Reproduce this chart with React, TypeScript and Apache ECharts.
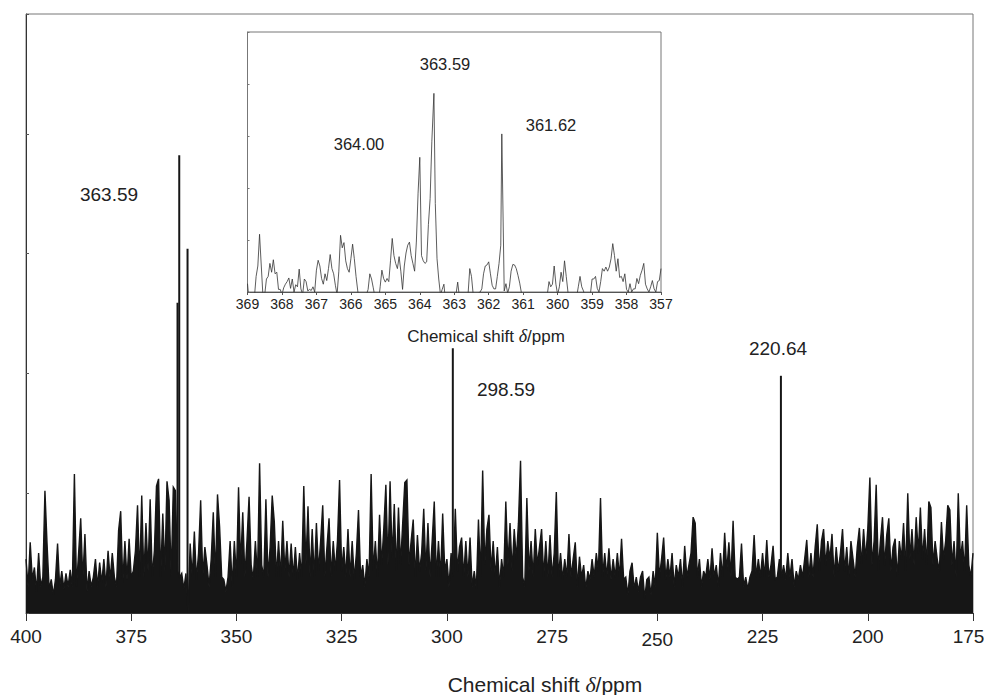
import React, { useEffect, useRef } from "react";
import * as echarts from "echarts";

// ---------- Full spectrum (400 → 175 ppm), intensities sampled every 0.5 ppm ----------
const MAIN_START = 400;
const MAIN_STEP = 0.5;

const seg400 = [
  0.45, 0.22, 0.59, 0.28, 0.38, 0.18, 0.5, 0.22, 0.3, 1.02,
  0.58, 0.2, 0.28, 0.15, 0.28, 0.58, 0.22, 0.35, 0.2, 0.33,
  0.22, 0.36, 0.22, 1.16, 0.22, 0.5, 0.79, 0.28, 0.66, 0.18,
  0.35, 0.22, 0.3, 0.45, 0.22, 0.42, 0.25, 0.45, 0.22, 0.52,
  0.28, 0.5, 0.3, 0.22, 0.69, 0.85, 0.25, 0.6, 0.28, 0.62,
];
const seg375 = [
  0.3, 0.35, 0.52, 0.9, 0.3, 0.98, 0.3, 0.75, 0.35, 0.95,
  0.3, 0.52, 1.06, 1.12, 0.3, 0.83, 0.35, 1.1, 0.94, 0.3,
  1.05, 1.02, 0.35, 0.3, 0.33, 0.2, 0.33, 0.0, 0.58, 0.3,
  0.68, 0.28, 0.5, 0.94, 0.3, 0.55, 0.4, 0.22, 0.45, 0.84,
  0.3, 0.99, 0.72, 0.3, 0.28, 0.18, 0.3, 0.6, 0.22, 0.6,
];
const seg350 = [
  0.3, 1.05, 0.4, 0.84, 0.3, 0.6, 0.97, 0.4, 0.28, 0.6,
  0.3, 1.25, 0.4, 0.3, 0.95, 0.3, 0.55, 0.98, 0.76, 0.3,
  0.6, 0.3, 0.77, 0.35, 0.6, 0.3, 0.58, 0.3, 0.55, 0.28,
  0.5, 0.3, 1.06, 0.4, 0.89, 0.3, 0.7, 0.3, 0.75, 0.35,
  0.6, 0.9, 0.3, 0.55, 0.79, 0.3, 0.6, 0.35, 0.6, 1.11,
];
const seg325 = [
  0.35, 0.55, 0.3, 0.7, 0.3, 0.6, 0.28, 0.5, 0.86, 0.3,
  0.4, 0.22, 0.45, 0.3, 1.16, 0.35, 0.6, 0.3, 0.82, 0.4,
  0.7, 1.07, 0.4, 1.1, 0.45, 0.91, 0.35, 0.88, 0.4, 0.75,
  1.09, 1.11, 0.4, 0.6, 0.78, 0.3, 0.65, 0.35, 0.5, 0.87,
  0.35, 0.75, 0.3, 0.6, 0.93, 0.3, 0.6, 0.3, 0.83, 0.35,
];
const seg300 = [
  0.45, 0.22, 0.5, 0.3, 0.87, 0.35, 0.55, 0.63, 0.3, 0.6,
  0.3, 0.63, 0.22, 0.35, 0.2, 0.78, 0.3, 1.19, 0.4, 0.7,
  0.82, 0.35, 0.6, 0.3, 0.55, 0.22, 0.45, 0.3, 0.93, 0.4,
  0.75, 0.35, 0.7, 0.45, 0.75, 1.27, 0.3, 0.22, 0.96, 0.35,
  0.6, 0.3, 0.7, 0.4, 0.55, 0.7, 0.3, 0.6, 0.3, 0.65,
];
const seg275 = [
  0.3, 0.5, 1.01, 0.3, 0.5, 0.28, 0.45, 0.3, 0.66, 0.3,
  0.45, 0.59, 0.22, 0.47, 0.3, 0.4, 0.2, 0.35, 0.28, 0.45,
  0.3, 0.5, 0.35, 0.96, 0.3, 0.5, 0.3, 0.54, 0.28, 0.45,
  0.3, 0.5, 0.3, 0.62, 0.28, 0.3, 0.15, 0.35, 0.42, 0.2,
  0.3, 0.18, 0.3, 0.35, 0.12, 0.28, 0.3, 0.15, 0.35, 0.22,
];
const seg250 = [
  0.67, 0.3, 0.45, 0.63, 0.28, 0.45, 0.3, 0.5, 0.22, 0.4,
  0.3, 0.45, 0.22, 0.56, 0.3, 0.4, 0.5, 0.8, 0.75, 0.3,
  0.45, 0.22, 0.35, 0.3, 0.45, 0.28, 0.54, 0.3, 0.4, 0.22,
  0.5, 0.3, 0.67, 0.35, 0.59, 0.3, 0.77, 0.3, 0.28, 0.3,
  0.58, 0.22, 0.3, 0.2, 0.3, 0.35, 0.65, 0.3, 0.45, 0.3,
];
const seg225 = [
  0.5, 0.3, 0.61, 0.3, 0.4, 0.56, 0.28, 0.3, 0.45, 0.3,
  0.4, 0.28, 0.5, 0.3, 0.45, 0.22, 0.35, 0.28, 0.4, 0.3,
  0.45, 0.61, 0.3, 0.5, 0.3, 0.55, 0.74, 0.35, 0.6, 0.7,
  0.4, 0.6, 0.45, 0.66, 0.3, 0.55, 0.35, 0.5, 0.7, 0.35,
  0.55, 0.3, 0.6, 0.45, 0.3, 0.55, 0.71, 0.4, 0.7, 0.45,
];
const seg200 = [
  0.7, 1.13, 0.4, 0.6, 1.07, 0.35, 0.6, 0.8, 0.4, 0.65,
  0.79, 0.35, 0.55, 0.62, 0.3, 0.6, 0.45, 0.75, 0.35, 1.0,
  0.45, 0.7, 0.4, 0.8, 0.5, 0.88, 0.45, 0.7, 0.4, 0.93,
  0.88, 0.4, 0.6, 0.45, 0.35, 0.76, 0.45, 0.6, 0.9, 0.86,
  0.4, 0.6, 0.3, 1.0, 0.45, 0.6, 0.35, 0.9, 0.4, 0.3, 0.5,
];
const mainNoise = [
  ...seg400, ...seg375, ...seg350, ...seg325, ...seg300,
  ...seg275, ...seg250, ...seg225, ...seg200,
];
const mainTicks = [400, 375, 350, 325, 300, 275, 250, 225, 200, 175];

// Resolved resonances of the full spectrum
const peakShifts = [364.0, 363.59, 361.62, 298.59, 220.64];
const peakHeights = [2.59, 3.82, 3.04, 2.21, 1.98];
// Which resonances carry a label in the full spectrum, and where the label sits
const mainLabelled = [1, 3, 4];
const mainLabelPos = [
  [109, 194],
  [506, 389],
  [778, 348],
];

// ---------- Expanded region (369 → 357 ppm), sampled every 0.05 ppm ----------
const INSET_START = 369;
const INSET_STEP = 0.05;
// null marks a slot taken by one of the resolved resonances below
const insetA = [
  0.16, -0.2, -0.2, -0.2, -0.1, 0.3, 0.5, 1.11, 0.5, -0.1,
  -0.05, 0.25, 0.3, 0.55, 0.38, 0.62, 0.35, 0.38, 0.05, 0.05,
  -0.05, 0.08, 0.15, 0.2, 0.27, 0.07, 0.25, 0.0, 0.14, 0.1,
  0.44, 0.06, -0.05, 0.25, 0.2, 0.02, 0.05, 0.03, 0.1, 0.0,
  0.42, 0.61, 0.5, 0.26, 0.15, 0.35, 0.22, 0.45, 0.72, 0.45,
  0.35, 0.13, -0.05, 0.4, 1.09, 0.85, 0.95, 0.6, 0.45, 0.38,
];
const insetB = [
  0.64, 0.92, 0.64, 0.3, 0.02, -0.2, -0.2, -0.2, -0.2, -0.05,
  0.05, 0.35, 0.25, 0.08, -0.1, -0.2, -0.2, 0.1, 0.42, 0.26,
  0.19, 0.26, 0.2, 0.6, 1.03, 0.7, 0.55, 0.45, 0.68, 0.4,
  0.05, 0.5, 0.75, 0.9, 0.96, 0.7, 0.55, 0.4, 0.96, 1.9,
  null, 0.7, 0.6, 0.55, 0.58, 1.3, 1.8, 2.9, null, 1.7,
  0.64, 0.25, -0.05, 0.05, 0.15, -0.2, -0.2, -0.2, -0.2, -0.1,
];
const insetC = [
  -0.1, -0.05, 0.19, -0.1, -0.2, -0.2, -0.2, -0.15, -0.05, 0.45,
  0.3, -0.05, -0.2, -0.2, -0.02, 0.0, 0.06, 0.35, 0.5, 0.52,
  0.58, 0.35, 0.13, 0.06, 0.06, 0.3, 0.55, 0.9, null, 0.02,
  0.16, -0.02, 0.1, 0.4, 0.53, 0.52, 0.45, 0.32, 0.17, -0.02,
  -0.15, -0.25, -0.25, -0.25, -0.25, -0.25, -0.25, -0.25, -0.25, -0.25,
  -0.25, -0.25, -0.25, -0.25, -0.05, 0.2, 0.1, 0.15, 0.5, 0.15,
];
const insetD = [
  -0.05, 0.1, 0.38, 0.2, 0.6, 0.3, 0.0, -0.2, -0.2, -0.2,
  -0.2, -0.1, 0.1, 0.3, 0.1, 0.02, -0.1, -0.2, -0.2, -0.05,
  0.25, 0.25, 0.3, 0.07, 0.0, 0.2, 0.45, 0.4, 0.48, 0.4,
  0.48, 0.64, 0.93, 0.7, 0.4, 0.64, 0.28, 0.3, 0.2, 0.35,
  0.05, 0.0, 0.16, 0.0, 0.06, 0.06, 0.26, 0.16, 0.32, 0.42,
  0.55, 0.15, 0.06, 0.0, 0.1, 0.22, 0.06, 0.0, 0.2, 0.22,
  0.45,
];
const insetNoise = [...insetA, ...insetB, ...insetC, ...insetD];

const insetPeakShifts = [364.0, 363.59, 361.62];
const insetPeakHeights = [2.59, 3.82, 3.04];
const insetLabelPos = [
  [359, 144],
  [445, 64],
  [551, 125],
];

const FONT = "'Liberation Sans', Arial, Helvetica, sans-serif";
const INK = "#161616";

function axisTitle(x: number, y: number, size: number) {
  return {
    type: "text",
    x,
    y,
    z: 100,
    style: {
      text: "{a|Chemical shift }{d|δ}{a|/ppm}",
      align: "center",
      verticalAlign: "middle",
      fill: "#222",
      rich: {
        a: { fontSize: size, fontFamily: FONT, fill: "#222" },
        d: {
          fontSize: size + 1,
          fontFamily: "'Liberation Serif', 'DejaVu Serif', serif",
          fontStyle: "italic",
          fill: "#222",
        },
      },
    },
  };
}

function label(text: string, x: number, y: number, size: number) {
  return {
    type: "text",
    x,
    y,
    z: 100,
    style: {
      text,
      fontSize: size,
      fontFamily: FONT,
      fill: "#222",
      align: "center",
      verticalAlign: "middle",
    },
  };
}

export default function App() {
  const ref = useRef<HTMLDivElement>(null);

  useEffect(() => {
    if (!ref.current) return;
    const chart = echarts.init(ref.current, null, { renderer: "svg" });

    const mainData = mainNoise.map((v, i) => [MAIN_START - i * MAIN_STEP, v]);
    const peakData = peakShifts.map((p, k) => [p, peakHeights[k]]);

    const insetData: number[][] = insetNoise.map((v, j) => {
      const x = +(INSET_START - j * INSET_STEP).toFixed(2);
      const k = insetPeakShifts.findIndex((p) => Math.abs(p - x) < INSET_STEP / 2);
      return k >= 0 ? [insetPeakShifts[k], insetPeakHeights[k]] : [x, v as number];
    });

    const graphics: any[] = [];
    mainLabelled.forEach((k, n) => {
      graphics.push(label(peakShifts[k].toFixed(2), mainLabelPos[n][0], mainLabelPos[n][1], 19));
    });
    insetPeakShifts.forEach((p, n) => {
      graphics.push(label(p.toFixed(2), insetLabelPos[n][0], insetLabelPos[n][1], 16.5));
    });
    graphics.push(axisTitle(486, 336, 17));
    graphics.push(axisTitle(545, 684, 21));

    const lowest = mainTicks[mainTicks.length - 1];

    chart.setOption({
      animation: false,
      backgroundColor: "#fff",
      grid: [
        {
          left: 26,
          top: 14,
          width: 947,
          height: 599,
          outerBoundsMode: "none",
          containLabel: false,
          show: true,
          borderColor: "#777",
          borderWidth: 1,
        },
        {
          left: 247.5,
          top: 32,
          width: 413.5,
          height: 260,
          outerBoundsMode: "none",
          containLabel: false,
          show: true,
          backgroundColor: "#fff",
          borderColor: "#777",
          borderWidth: 1,
          z: 10,
        },
      ],
      xAxis: [
        {
          gridIndex: 0,
          type: "value",
          min: lowest,
          max: mainTicks[0],
          interval: 25,
          inverse: true,
          axisLine: { show: true, lineStyle: { color: "#333", width: 1 } },
          axisTick: { show: true, inside: false, length: 8, lineStyle: { color: "#333" } },
          axisLabel: {
            margin: 14,
            fontSize: 19,
            fontFamily: FONT,
            color: "#222",
            formatter: (v: number) =>
              v === 250 ? `{low|${v}}` : v === lowest ? `{edge|${v}}` : `{n|${v}}`,
            rich: {
              n: { fontSize: 19, fontFamily: FONT, color: "#222" },
              low: { fontSize: 19, fontFamily: FONT, color: "#222", padding: [3, 0, 0, 0] },
              edge: { fontSize: 19, fontFamily: FONT, color: "#222", padding: [0, 9, 0, 0] },
            },
          },
          splitLine: { show: false },
        },
        {
          gridIndex: 1,
          type: "value",
          min: 357,
          max: 369,
          interval: 1,
          inverse: true,
          z: 10,
          axisLine: { show: true, lineStyle: { color: "#555", width: 1 } },
          axisTick: { show: true, inside: false, length: 3, lineStyle: { color: "#555" } },
          axisLabel: { margin: 5, fontSize: 14, fontFamily: FONT, color: "#222" },
          splitLine: { show: false },
        },
      ],
      yAxis: [
        {
          gridIndex: 0,
          type: "value",
          min: 0,
          max: 5,
          interval: 1,
          axisLine: { show: true, lineStyle: { color: "#333", width: 1 } },
          axisTick: { show: true, inside: true, length: 3, lineStyle: { color: "#555" } },
          axisLabel: { show: false },
          splitLine: { show: false },
        },
        {
          gridIndex: 1,
          type: "value",
          min: 0,
          max: 5,
          interval: 1,
          z: 10,
          axisLine: { show: true, lineStyle: { color: "#777", width: 1 } },
          axisTick: { show: true, inside: true, length: 2, lineStyle: { color: "#777" } },
          axisLabel: { show: false },
          splitLine: { show: false },
        },
      ],
      series: [
        {
          type: "line",
          xAxisIndex: 0,
          yAxisIndex: 0,
          data: mainData,
          symbol: "none",
          lineStyle: { color: INK, width: 1.4, join: "miter" },
          areaStyle: { color: INK, opacity: 1 },
          silent: true,
        },
        {
          type: "bar",
          xAxisIndex: 0,
          yAxisIndex: 0,
          data: peakData,
          barWidth: 2,
          itemStyle: { color: INK },
          silent: true,
        },
        {
          type: "line",
          xAxisIndex: 1,
          yAxisIndex: 1,
          data: insetData,
          symbol: "none",
          clip: true,
          z: 12,
          lineStyle: { color: "#333", width: 0.8 },
          silent: true,
        },
      ],
      graphic: graphics,
    });

    return () => chart.dispose();
  }, []);

  return (
    <div
      ref={ref}
      style={{ position: "absolute", left: 0, top: 0, width: 984, height: 695 }}
    />
  );
}
